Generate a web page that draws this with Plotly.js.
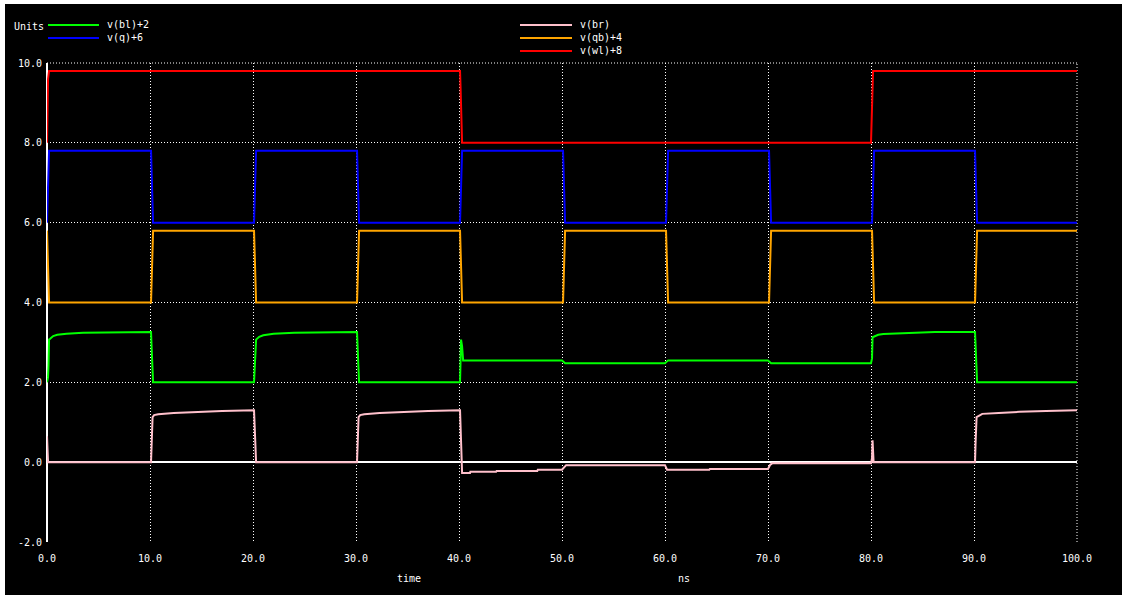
<!DOCTYPE html>
<html>
<head>
<meta charset="utf-8">
<script src="https://cdn.plot.ly/plotly-3.0.1.min.js"></script>
<style>
  html, body { margin: 0; padding: 0; background: #ffffff; }
  #plot { position: absolute; left: 5px; top: 4px; width: 1117px; height: 591px; }
</style>
</head>
<body>
<div id="plot"></div>
<script>
// ---- data (ns, plotted value incl. offset) ----
const t_wl = [0, 0.02, 0.05, 0.1, 0.2, 40.1, 40.15, 40.2, 40.3, 80.0, 80.05, 80.1, 80.2, 100];
const v_wl = [8.0, 8.5, 9.1, 9.6, 9.8, 9.8, 9.4, 8.5, 8.0, 8.0, 8.6, 9.3, 9.8, 9.8];

const t_q = [0, 0.1, 0.2, 10.1, 10.2, 10.3, 20.1, 20.2, 20.3, 30.1, 30.2, 30.3, 40.1, 40.2, 40.3,
             50.1, 50.2, 50.3, 60.1, 60.2, 60.3, 70.1, 70.2, 70.3, 80.1, 80.2, 80.3, 90.1, 90.2, 90.3, 100];
const v_q = [6.0, 7.0, 7.8, 7.8, 7.0, 6.0, 6.0, 7.0, 7.8, 7.8, 7.0, 6.0, 6.0, 7.0, 7.8,
             7.8, 7.0, 6.0, 6.0, 7.0, 7.8, 7.8, 7.0, 6.0, 6.0, 7.0, 7.8, 7.8, 7.0, 6.0, 6.0];

const t_qb = [0, 0.1, 0.2, 10.1, 10.2, 10.3, 20.1, 20.2, 20.3, 30.1, 30.2, 30.3, 40.1, 40.2, 40.3,
              50.1, 50.2, 50.3, 60.1, 60.2, 60.3, 70.1, 70.2, 70.3, 80.1, 80.2, 80.3, 90.1, 90.2, 90.3, 100];
const v_qb = [5.8, 4.8, 4.0, 4.0, 5.0, 5.8, 5.8, 4.8, 4.0, 4.0, 5.0, 5.8, 5.8, 4.8, 4.0,
              4.0, 5.0, 5.8, 5.8, 4.8, 4.0, 4.0, 5.0, 5.8, 5.8, 4.8, 4.0, 4.0, 5.0, 5.8, 5.8];

const t_bl = [0, 0.1, 0.15, 0.2, 0.3, 0.6, 1.0, 1.9, 3.5, 7.5, 10.1, 10.2, 10.3,
              20.1, 20.2, 20.3, 20.6, 21.0, 21.5, 22.0, 24.0, 27.5, 30.1, 30.2, 30.3,
              40.1, 40.15, 40.2, 40.3, 40.4, 50.0, 50.3, 60.0, 60.3, 70.0, 70.3, 80.0,
              80.1, 80.15, 80.7, 81.2, 84.3, 86.2, 90.1, 90.2, 90.3, 100];
const v_bl = [2.0, 2.13, 2.43, 3.07, 3.09, 3.16, 3.19, 3.22, 3.24, 3.26, 3.26, 2.6, 2.0,
              2.0, 2.5, 3.07, 3.14, 3.18, 3.2, 3.22, 3.24, 3.26, 3.26, 2.6, 2.0,
              2.0, 2.8, 3.07, 2.9, 2.55, 2.55, 2.48, 2.48, 2.55, 2.55, 2.48, 2.48,
              2.6, 3.13, 3.19, 3.21, 3.23, 3.26, 3.26, 2.6, 2.0, 2.0];

const t_br = [0, 0.05, 0.1, 10.1, 10.2, 10.25, 10.4, 10.8, 12.3, 14.4, 17.0, 20.1, 20.2, 20.3,
              30.1, 30.2, 30.25, 30.4, 30.8, 32.3, 34.4, 37.0, 40.1, 40.2, 40.3,
              41.07, 41.1, 43.6, 43.65, 47.6, 47.65, 50.0, 50.2, 50.4, 60.0, 60.2, 64.3, 64.35,
              70.0, 70.2, 70.4, 80.0, 80.1, 80.15, 80.25,
              90.1, 90.15, 90.2, 90.25, 90.6, 90.8, 92.4, 94.4, 97.0, 100];
const v_br = [0.65, 0.3, 0.0, 0.0, 0.6, 1.13, 1.18, 1.2, 1.23, 1.26, 1.28, 1.3, 0.6, 0.0,
              0.0, 0.6, 1.13, 1.18, 1.2, 1.23, 1.26, 1.28, 1.3, 0.5, -0.27,
              -0.27, -0.24, -0.24, -0.22, -0.22, -0.19, -0.19, -0.12, -0.075, -0.075, -0.19, -0.19, -0.17,
              -0.17, -0.07, -0.03, -0.03, 0.1, 0.55, 0.0,
              0.0, 0.47, 0.98, 1.13, 1.18, 1.21, 1.23, 1.26, 1.28, 1.3];

const seriesNames = ["v(bl)+2", "v(q)+6", "v(br)", "v(qb)+4", "v(wl)+8"];
const seriesColors = ["#00ff00", "#0000ff", "#ffc0cb", "#ffa500", "#ff0000"];

const xTickVals = [0, 10, 20, 30, 40, 50, 60, 70, 80, 90, 100];
const xTickText = ["0.0", "10.0", "20.0", "30.0", "40.0", "50.0", "60.0", "70.0", "80.0", "90.0", "100.0"];
const yTickVals = [-2, 0, 2, 4, 6, 8, 10];
const yTickText = ["-2.0", "0.0", "2.0", "4.0", "6.0", "8.0", "10.0"];

// ---- layout geometry (div pixels) ----
const W = 1117, H = 591;
const M = { l: 42, r: 45, t: 59, b: 53 };
const PW = W - M.l - M.r, PH = H - M.t - M.b;
const px = x => (x - M.l) / PW;       // div pixel x -> paper
const py = y => (H - M.b - y) / PH;   // div pixel y -> paper

const FONT = "DejaVu Sans Mono, Liberation Mono, monospace";
const FS = 10;

const xs = [t_bl, t_q, t_br, t_qb, t_wl];
const ys = [v_bl, v_q, v_br, v_qb, v_wl];
const traces = xs.map((x, i) => ({
  x: x, y: ys[i], type: "scatter", mode: "lines", name: seriesNames[i],
  line: { color: seriesColors[i], width: 2 }, showlegend: false, hoverinfo: "skip"
}));

// legend: samples + labels
const legendPos = [
  { lx0: 43, lx1: 94, tx: 100, y: 21 },
  { lx0: 43, lx1: 94, tx: 100, y: 34 },
  { lx0: 515, lx1: 567, tx: 573, y: 21 },
  { lx0: 515, lx1: 567, tx: 573, y: 34 },
  { lx0: 515, lx1: 567, tx: 573, y: 47 }
];
const shapes = legendPos.map((p, i) => ({
  type: "line", xref: "paper", yref: "paper",
  x0: px(p.lx0), x1: px(p.lx1), y0: py(p.y), y1: py(p.y),
  line: { color: seriesColors[i], width: 2 }
}));
// dotted grid lines on the top and right edges of the plot box
shapes.push({ type: "line", xref: "paper", yref: "paper", x0: 0, x1: 1, y0: 1, y1: 1,
  line: { color: "#ffffff", width: 1, dash: "1px,2px" }, layer: "below" });
shapes.push({ type: "line", xref: "paper", yref: "paper", x0: 1, x1: 1, y0: 0, y1: 1,
  line: { color: "#ffffff", width: 1, dash: "1px,2px" }, layer: "below" });

const annotations = legendPos.map((p, i) => ({
  text: seriesNames[i], xref: "paper", yref: "paper", x: px(p.tx), y: py(p.y),
  xanchor: "left", yanchor: "middle", showarrow: false,
  font: { family: FONT, size: FS, color: "#ffffff" }
}));
annotations.push({ text: "Units", xref: "paper", yref: "paper", x: px(7), y: py(23),
  xanchor: "left", yanchor: "middle", showarrow: false, font: { family: FONT, size: FS, color: "#ffffff" } });
annotations.push({ text: "time", xref: "paper", yref: "paper", x: px(390), y: py(574),
  xanchor: "left", yanchor: "middle", showarrow: false, font: { family: FONT, size: FS, color: "#ffffff" } });
annotations.push({ text: "ns", xref: "paper", yref: "paper", x: px(671), y: py(574),
  xanchor: "left", yanchor: "middle", showarrow: false, font: { family: FONT, size: FS, color: "#ffffff" } });

const layout = {
  width: W, height: H,
  margin: { l: M.l, r: M.r, t: M.t, b: M.b, pad: 0 },
  paper_bgcolor: "#000000", plot_bgcolor: "#000000",
  font: { family: FONT, size: FS, color: "#ffffff" },
  showlegend: false,
  xaxis: {
    range: [0, 100], tickvals: xTickVals, ticktext: xTickText, ticks: "",
    showgrid: true, gridcolor: "#ffffff", gridwidth: 1, griddash: "1px,2px",
    zeroline: true, zerolinecolor: "#ffffff", zerolinewidth: 2,
    showline: false, ticklabelstandoff: 9, fixedrange: true
  },
  yaxis: {
    range: [-2, 10], tickvals: yTickVals, ticktext: yTickText, ticks: "",
    showgrid: true, gridcolor: "#ffffff", gridwidth: 1, griddash: "1px,2px",
    zeroline: true, zerolinecolor: "#ffffff", zerolinewidth: 2,
    showline: false, ticklabelstandoff: 4, fixedrange: true
  },
  shapes: shapes,
  annotations: annotations
};

Plotly.newPlot("plot", traces, layout, { staticPlot: true, displayModeBar: false });
</script>
</body>
</html>
